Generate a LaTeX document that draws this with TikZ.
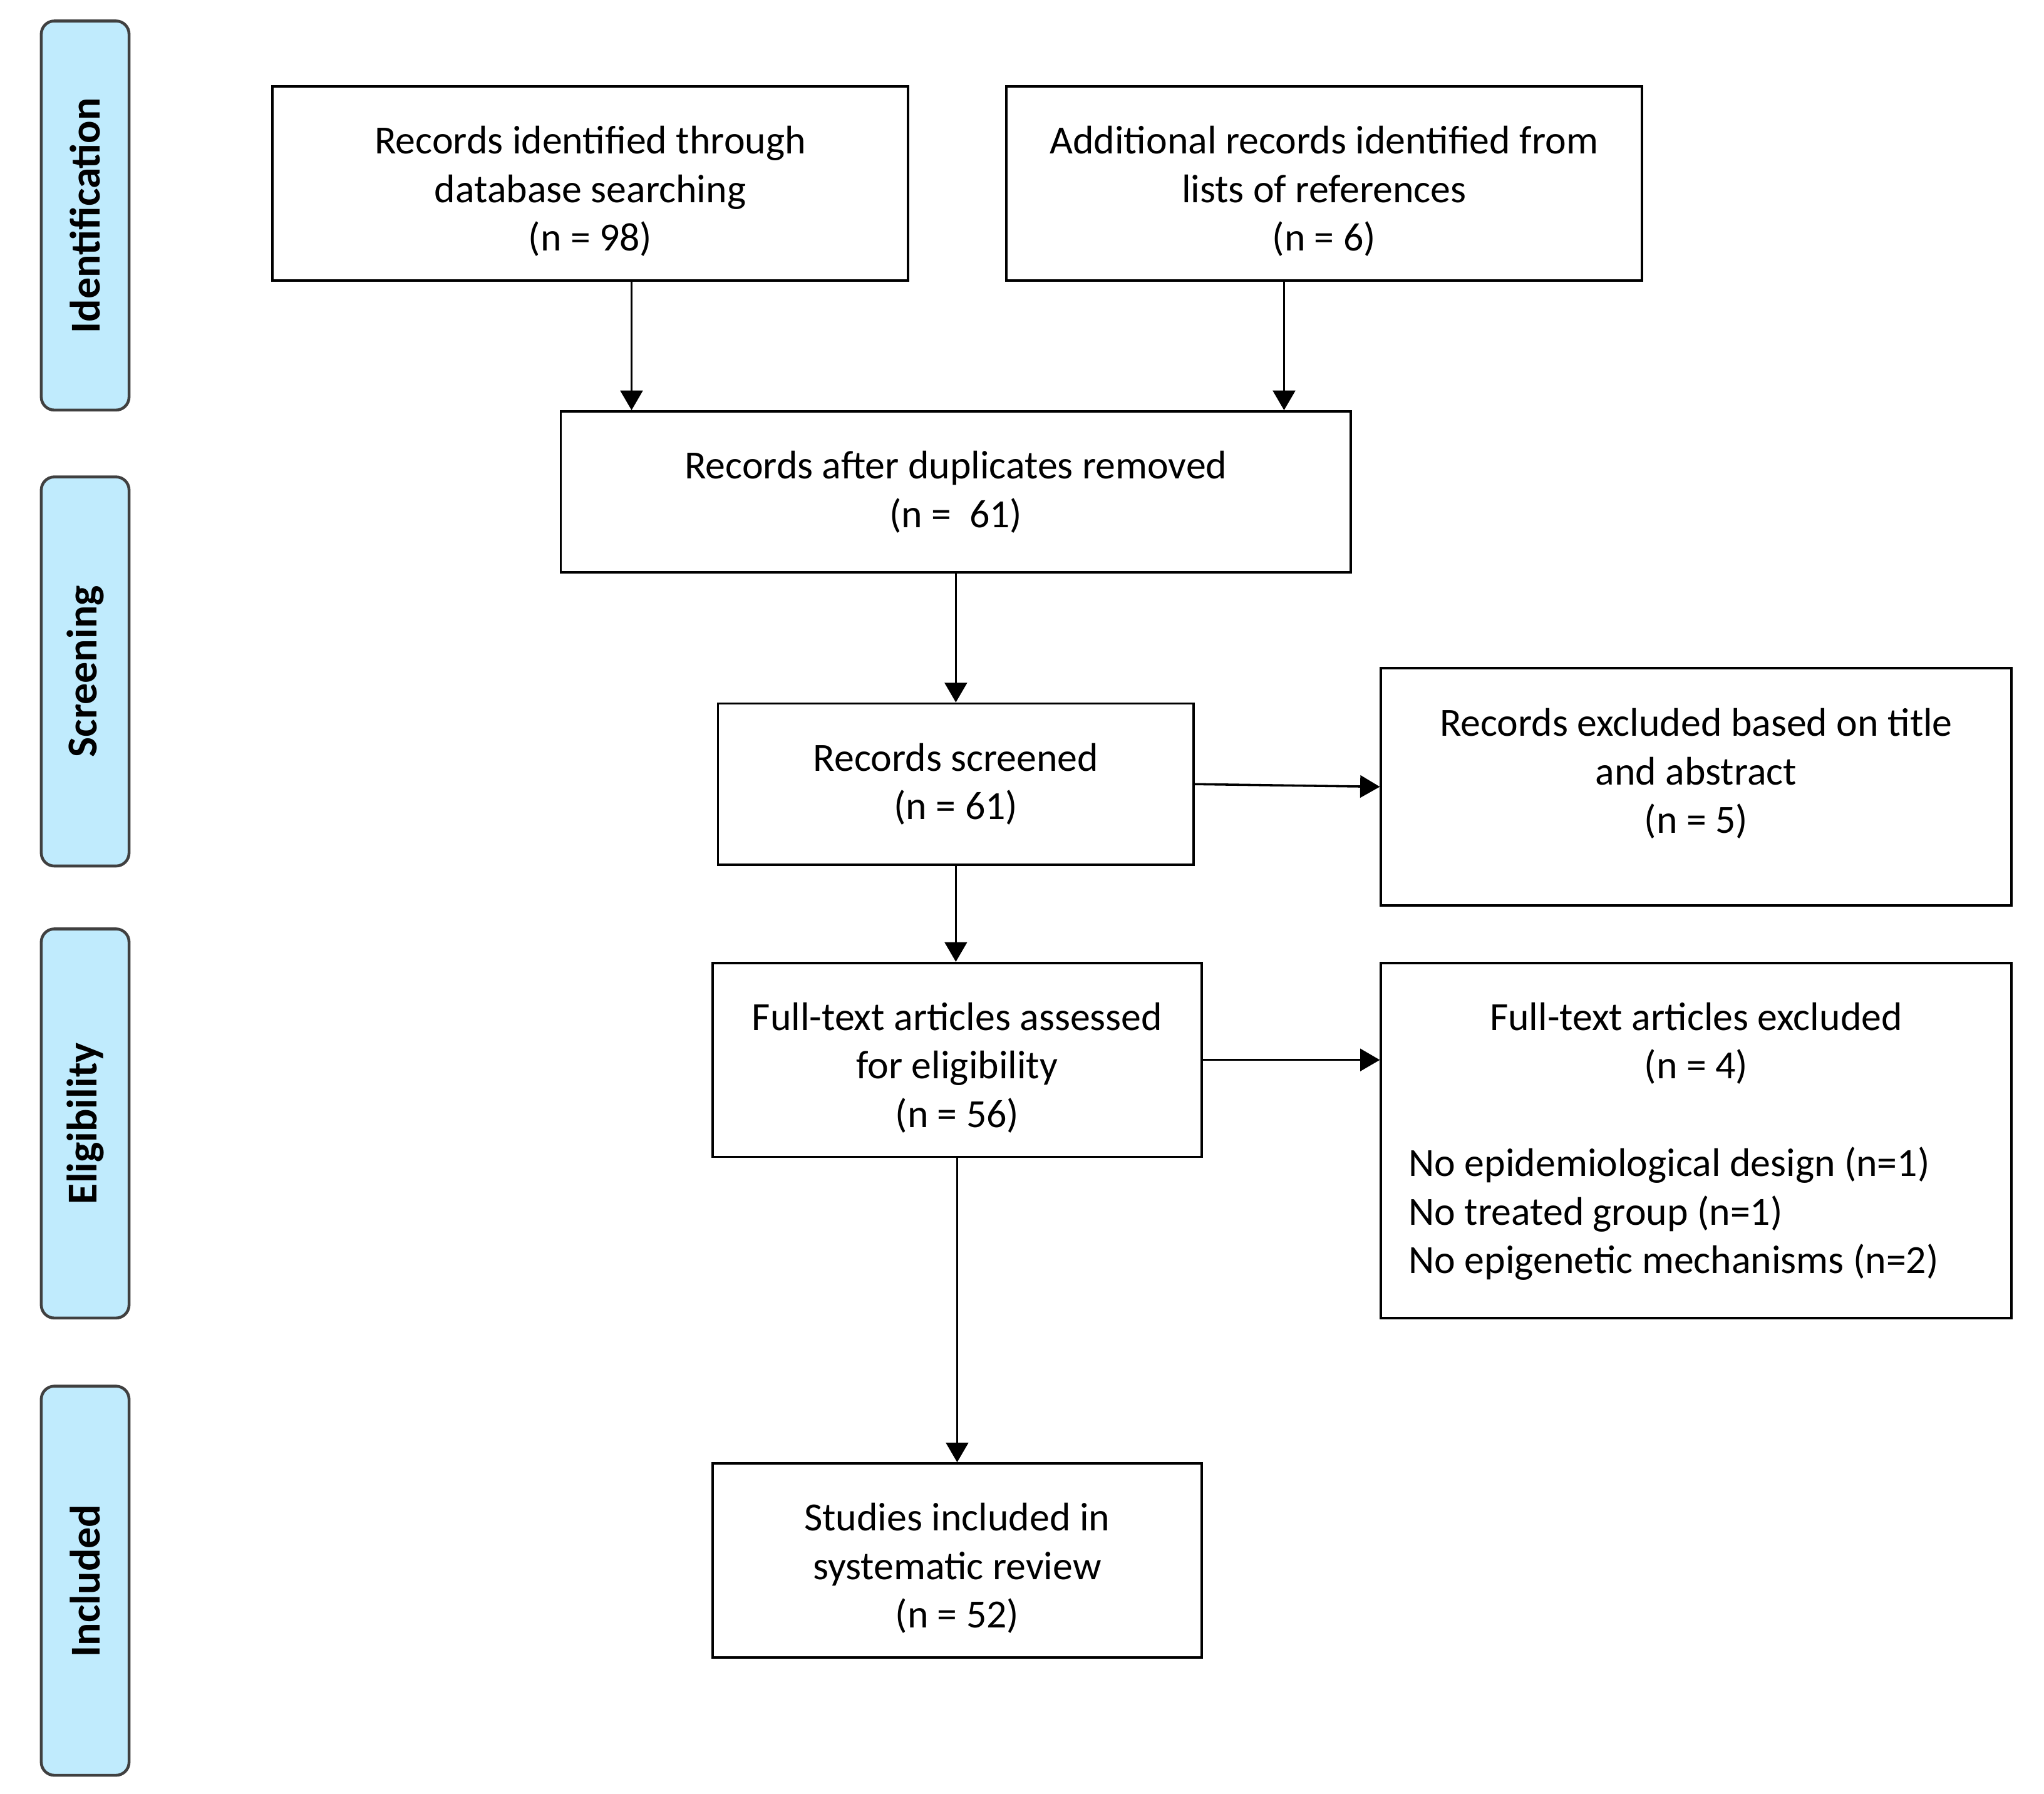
\documentclass[tikz,border=0pt]{standalone}
\usepackage{fontspec}
\setmainfont{Carlito}
\usetikzlibrary{arrows.meta,calc}
\definecolor{phasefill}{RGB}{192,235,253}
\definecolor{phaseline}{RGB}{64,64,64}
\newcommand{\toppad}{\rule{0pt}{33pt}}
\begin{document}
\begin{tikzpicture}[x=1pt,y=-1pt,
  box/.style={draw=black, line width=1.8pt, rectangle, inner sep=0pt, align=center,
    font=\fontsize{30.5}{37}\selectfont},
  txt/.style={inner sep=0pt, font=\fontsize{30.5}{37}\selectfont},
  phase/.style={draw=phaseline, fill=phasefill, line width=2.2pt, rounded corners=10pt,
    rotate=90, minimum width=297pt, minimum height=67pt, inner sep=0pt,
    font=\fontsize{32.5}{37}\selectfont\bfseries},
  arr/.style={line width=1.7pt, -{Triangle[length=15pt,width=17pt]}}
]
\useasboundingbox (0,0) rectangle (1560,1369);
\fill[white] (0,0) rectangle (1560,1369);

% phase bars
\node[phase] (p1) at (65,164.5) {Identification};
\node[phase] (p2) at (65,512.5) {Screening};
\node[phase] (p3) at (65,857.5) {Eligibility};
\node[phase] (p4) at (65,1206.5) {Included};

% boxes
\node[box, minimum width=485pt, minimum height=148pt] (b1) at (450.5,140)
  {\toppad Records identified through\\database searching\\(n = 98)};
\node[box, minimum width=485pt, minimum height=148pt] (b2) at (1010.5,140)
  {\toppad Additional records identified from\\lists of references\\(n = 6)};
\node[box, minimum width=603pt, minimum height=123pt] (b3) at (729.5,375.5)
  {Records after duplicates removed\\(n =~~61)};
\node[box, minimum width=363pt, minimum height=123pt] (b4) at (729.5,598.5)
  {Records screened\\(n = 61)};
\node[box, minimum width=481pt, minimum height=181pt] (b5) at (1294.5,600.5) {};
\node[txt, align=center] (b5t) at (1294.5,590.5)
  {Records excluded based on title\\and abstract\\(n = 5)};
\node[box, minimum width=373pt, minimum height=148pt] (b6) at (730.5,809)
  {\toppad Full-text articles assessed\\for eligibility\\(n = 56)};
\node[box, minimum width=481pt, minimum height=271pt] (b7) at (1294.5,870.5) {};
\node[txt, align=center] (b7a) at (1294.5,796.5)
  {Full-text articles excluded\\(n = 4)};
\node[txt, align=left, anchor=west] (b7b) at (1075,926.5)
  {No epidemiological design (n=1)\\No treated group (n=1)\\No epigenetic mechanisms (n=2)};
\node[box, minimum width=373pt, minimum height=148pt] (b8) at (730.5,1191)
  {\toppad Studies included in\\systematic review\\(n = 52)};

% connectors
\draw[arr] ([xshift=31.5pt]b1.south) -- ([xshift=31.5pt]b1.south |- b3.north);
\draw[arr] ([xshift=-30.5pt]b2.south) -- ([xshift=-30.5pt]b2.south |- b3.north);
\draw[arr] (b3.south) -- (b3.south |- b4.north);
\draw[arr] (b4.east) -- (b5.west);
\draw[arr] (b4.south) -- (b4.south |- b6.north);
\draw[arr] (b6.east) -- (b6.east -| b7.west);
\draw[arr] (b6.south) -- (b6.south |- b8.north);
\end{tikzpicture}
\end{document}
